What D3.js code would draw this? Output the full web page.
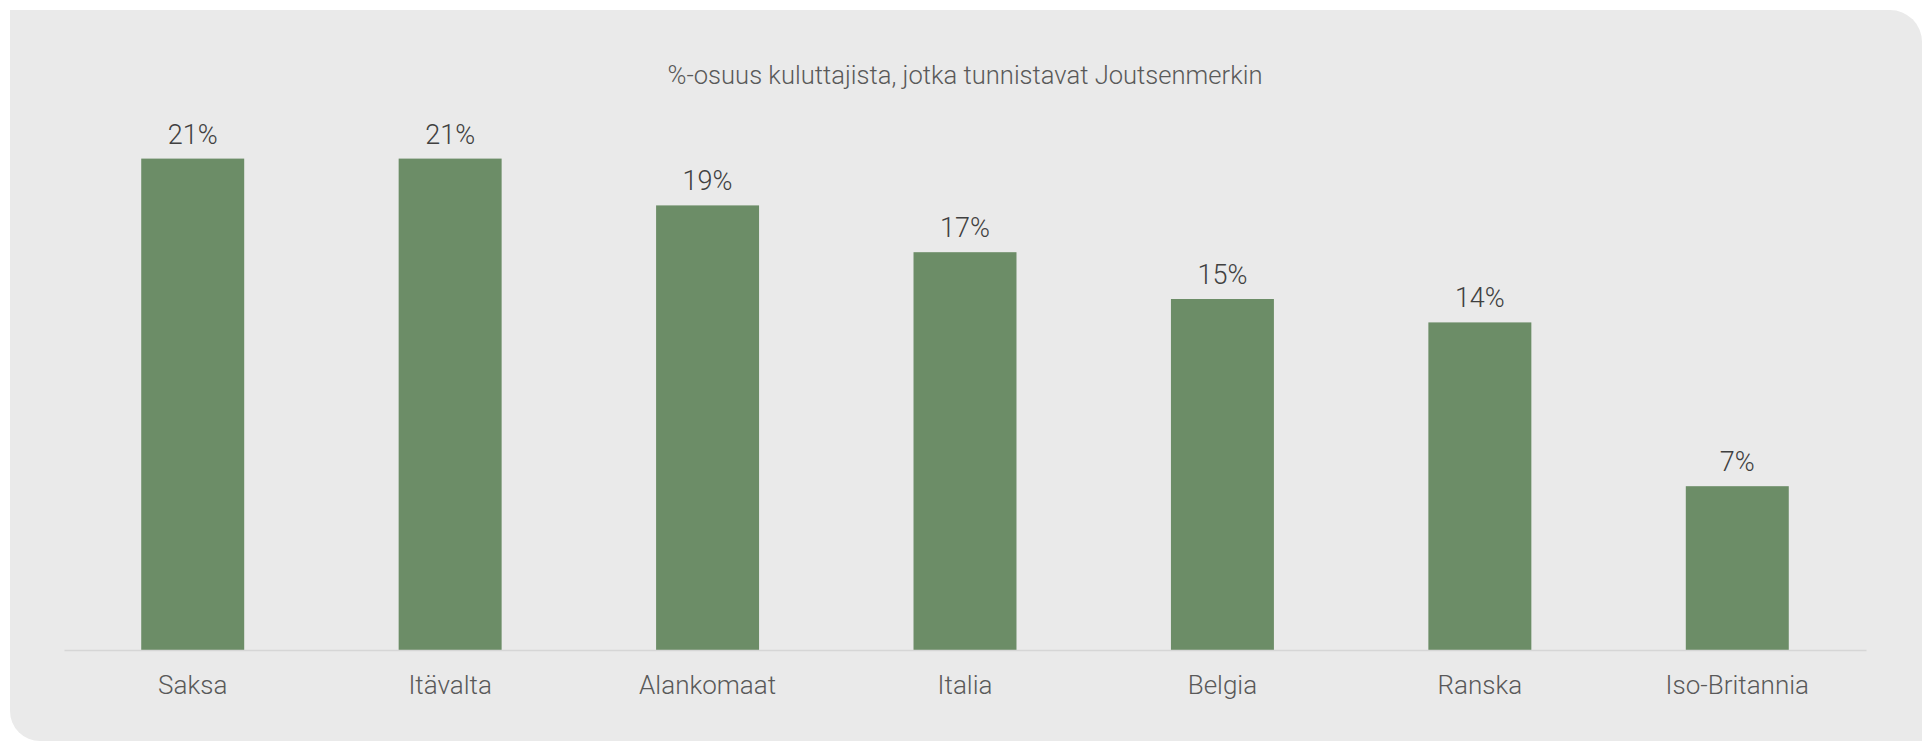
<!DOCTYPE html>
<html>
<head>
<meta charset="utf-8">
<script src="https://cdn.jsdelivr.net/npm/d3@7"></script>
<style>
  html, body { margin: 0; padding: 0; background: #ffffff; }
  svg { display: block; }
  text { font-family: Roboto, "Open Sans", sans-serif; }
</style>
</head>
<body>
<div id="chart"></div>
<script>
const countries = ["Saksa", "Itävalta", "Alankomaat", "Italia", "Belgia", "Ranska", "Iso-Britannia"];
const shares = [21, 21, 19, 17, 15, 14, 7];
const title = "%-osuus kuluttajista, jotka tunnistavat Joutsenmerkin";

const width = 1929, height = 741;
const margin = { top: 65, right: 63, bottom: 91, left: 64 };

const data = countries.map((c, i) => ({ country: c, value: shares[i] }));

const svg = d3.select("#chart")
    .append("svg")
    .attr("width", width)
    .attr("height", height);

// panel background, two rounded corners
svg.append("path")
    .attr("d", "M10,10 H1890 A32,32 0 0 1 1922,42 V741 H40 A30,30 0 0 1 10,711 Z")
    .attr("fill", "#eaeaea");

const x = d3.scaleBand()
    .domain(countries)
    .range([margin.left, width - margin.right])
    .paddingInner(0.6)
    .paddingOuter(0.3);

const y = d3.scaleLinear()
    .domain([0, 25])
    .range([height - margin.bottom, margin.top]);

svg.append("text")
    .attr("x", (margin.left + width - margin.right) / 2)
    .attr("y", 84)
    .attr("text-anchor", "middle")
    .attr("textLength", 595)
    .attr("lengthAdjust", "spacingAndGlyphs")
    .style("font-size", "26px")
    .style("font-weight", 300)
    .style("fill", "#595959")
    .text(title);

svg.selectAll(".bar")
    .data(data)
    .enter().append("rect")
    .attr("class", "bar")
    .attr("x", d => x(d.country))
    .attr("y", d => y(d.value))
    .attr("width", x.bandwidth())
    .attr("height", d => y(0) - y(d.value))
    .style("fill", "#6c8d67");

svg.selectAll(".label")
    .data(data)
    .enter().append("text")
    .attr("class", "label")
    .attr("x", d => x(d.country) + x.bandwidth() / 2)
    .attr("y", d => y(d.value) - 15)
    .attr("text-anchor", "middle")
    .style("font-size", "27px")
    .style("font-weight", 300)
    .style("fill", "#404040")
    .text(d => d.value + "%");

const xAxis = svg.append("g")
    .attr("class", "x axis")
    .attr("transform", `translate(0, ${y(0)})`)
    .call(d3.axisBottom(x).tickSize(0).tickSizeOuter(0));

xAxis.select(".domain")
    .style("stroke", "#d6d6d6")
    .style("stroke-width", "1.5px");

xAxis.selectAll("text")
    .attr("y", 44)
    .attr("dy", 0)
    .style("font-family", "Roboto, sans-serif")
    .style("font-size", "26px")
    .style("font-weight", 300)
    .style("fill", "#595959");
</script>
</body>
</html>
